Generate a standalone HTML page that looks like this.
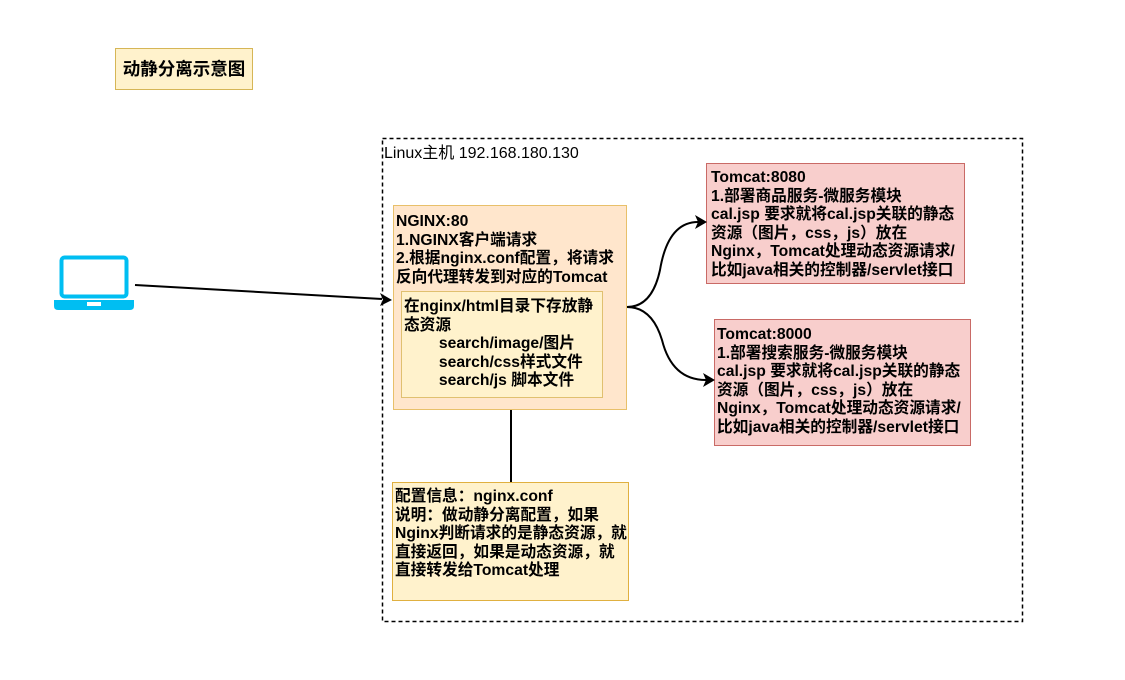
<!DOCTYPE html>
<html><head><meta charset="utf-8"><style>
html,body{margin:0;padding:0;background:#fff;}
body{width:1125px;height:680px;position:relative;overflow:hidden;font-family:"Liberation Sans","Noto Sans CJK SC",sans-serif;}
.b{position:absolute;box-sizing:border-box;}
.t{position:absolute;font-size:15.7px;line-height:18.6px;font-weight:bold;color:#000;white-space:nowrap;}
</style></head><body>
<svg class="b" style="left:0;top:0" width="1125" height="680">
<rect x="382.5" y="138.5" width="640" height="483" fill="none" stroke="#000" stroke-width="1.5" stroke-dasharray="4 3"/>
</svg>
<div class="b" style="left:115px;top:48px;width:138px;height:42px;background:#fff2cc;border:1px solid #d6b656;"></div>
<div class="t" style="left:115px;top:48px;width:138px;line-height:42px;text-align:center;font-size:17.5px;">动静分离示意图</div>

<div class="t" style="left:384px;top:145px;font-weight:normal;font-size:16px;">Linux主机 192.168.180.130</div>

<div class="b" style="left:393px;top:205px;width:234px;height:205px;background:#ffe6cc;border:1px solid #e8c06a;"></div>
<div class="t" style="left:396px;top:213px;">NGINX:80<br>1.NGINX客户端请求<br>2.根据nginx.conf配置，将请求<br>反向代理转发到对应的Tomcat</div>
<div class="b" style="left:401px;top:291px;width:202px;height:107px;background:#fff2cc;border:1px solid #e0c070;"></div>
<div class="t" style="left:404px;top:298px;">在nginx/html目录下存放静<br>态资源<br>&nbsp;&nbsp;&nbsp;&nbsp;&nbsp;&nbsp;&nbsp;&nbsp;search/image/图片<br>&nbsp;&nbsp;&nbsp;&nbsp;&nbsp;&nbsp;&nbsp;&nbsp;search/css样式文件<br>&nbsp;&nbsp;&nbsp;&nbsp;&nbsp;&nbsp;&nbsp;&nbsp;search/js 脚本文件</div>

<div class="b" style="left:706px;top:163px;width:259px;height:121px;background:#f8cecc;border:1px solid #c96a66;"></div>
<div class="t" style="left:711px;top:169px;">Tomcat:8080<br>1.部署商品服务-微服务模块<br>cal.jsp 要求就将cal.jsp关联的静态<br>资源（图片，css，js）放在<br>Nginx，Tomcat处理动态资源请求/<br>比如java相关的控制器/servlet接口</div>

<div class="b" style="left:714px;top:319px;width:257px;height:127px;background:#f8cecc;border:1px solid #c96a66;"></div>
<div class="t" style="left:717px;top:326px;">Tomcat:8000<br>1.部署搜索服务-微服务模块<br>cal.jsp 要求就将cal.jsp关联的静态<br>资源（图片，css，js）放在<br>Nginx，Tomcat处理动态资源请求/<br>比如java相关的控制器/servlet接口</div>

<div class="b" style="left:392px;top:482px;width:237px;height:119px;background:#fff2cc;border:1px solid #e0b040;"></div>
<div class="t" style="left:395px;top:488px;">配置信息：nginx.conf<br>说明：做动静分离配置，如果<br>Nginx判断请求的是静态资源，就<br>直接返回，如果是动态资源，就<br>直接转发给Tomcat处理</div>

<svg class="b" style="left:0;top:0" width="1125" height="680">
<rect x="61.5" y="257.5" width="65" height="39" rx="3" fill="none" stroke="#00bef2" stroke-width="4"/>
<path d="M54 300 L134 300 L134 306 Q134 310 130 310 L58 310 Q54 310 54 306 Z" fill="#00bef2"/>
<rect x="87" y="302" width="14" height="4" fill="#fff"/>
<line x1="135" y1="285" x2="382" y2="299" stroke="#000" stroke-width="2"/>
<path d="M392 300 L380 293 L383 299.5 L380 306 Z" fill="#000"/>
<line x1="511" y1="410" x2="511" y2="482" stroke="#000" stroke-width="2"/>
<path d="M627 307 Q652 307 660 270 Q668 222 698 222" fill="none" stroke="#000" stroke-width="2"/>
<path d="M707 222 L695 215 L698 222 L695 229 Z" fill="#000"/>
<path d="M627 307 Q652 307 662 340 Q672 380 706 380" fill="none" stroke="#000" stroke-width="2"/>
<path d="M715 380 L703 373 L706 380 L703 387 Z" fill="#000"/>
</svg>
</body></html>
